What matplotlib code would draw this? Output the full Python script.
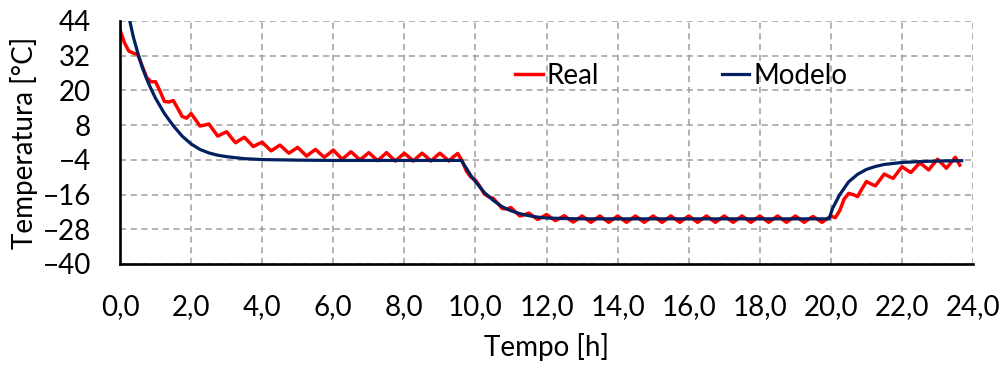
import numpy as np
import matplotlib
matplotlib.use("Agg")
import matplotlib.pyplot as plt

plt.rcParams["font.family"] = ["Lato", "DejaVu Sans"]

# ── Data ─────────────────────────────────────────────────
# Real: sampled every 0.125 h (8 values per hour)
real_step = 0.125
real_temp = [
    40.9, 36.5, 33.6, 32.9, 32.4, 28.5, 24.5, 23.0,          # 0 h
    23.0, 19.8, 16.2, 16.0, 16.5, 13.8, 11.0, 10.4,          # 1 h
    12.0, 9.9, 7.7, 8.0, 8.4, 6.3, 4.2, 5.0,                 # 2 h
    5.7, 3.8, 1.9, 2.9, 3.8, 2.2, 0.6, 1.4,                  # 3 h
    2.1, 0.6, -0.9, 0.1, 1.1, -0.3, -1.7, -0.7,              # 4 h
    0.3, -1.2, -2.7, -1.5, -0.4, -1.8, -3.1, -1.9,           # 5 h
    -0.6, -2.2, -3.8, -2.5, -1.2, -2.6, -4.0, -2.8,          # 6 h
    -1.5, -2.9, -4.3, -2.9, -1.5, -3.0, -4.4, -3.0,          # 7 h
    -1.7, -3.0, -4.4, -3.0, -1.7, -3.0, -4.4, -3.0,          # 8 h
    -1.7, -3.0, -4.4, -3.0, -1.8, -4.3, -8.0, -10.0,         # 9 h
    -11.0, -13.2, -15.8, -16.8, -17.3, -19.0, -20.8, -21.0,  # 10 h
    -20.5, -22.0, -23.4, -23.0, -22.4, -23.5, -24.6, -23.8,  # 11 h
    -22.9, -24.0, -25.0, -24.2, -23.3, -24.5, -25.5, -24.5,  # 12 h
    -23.4, -24.5, -25.6, -24.5, -23.4, -24.5, -25.6, -24.5,  # 13 h
    -23.4, -24.5, -25.6, -24.5, -23.4, -24.5, -25.6, -24.5,  # 14 h
    -23.4, -24.5, -25.6, -24.5, -23.4, -24.5, -25.6, -24.5,  # 15 h
    -23.4, -24.5, -25.6, -24.5, -23.4, -24.5, -25.6, -24.5,  # 16 h
    -23.4, -24.5, -25.6, -24.5, -23.4, -24.5, -25.6, -24.5,  # 17 h
    -23.4, -24.5, -25.6, -24.5, -23.4, -24.5, -25.6, -24.5,  # 18 h
    -23.4, -24.5, -25.6, -24.5, -23.6, -24.6, -25.6, -24.5,  # 19 h
    -23.4, -24.0, -21.5, -17.5, -15.6, -16.0, -16.7, -14.0,  # 20 h
    -11.5, -12.3, -13.0, -11.0, -8.9, -9.7, -10.4, -8.4,     # 21 h
    -6.4, -7.4, -8.4, -6.7, -5.0, -6.2, -7.5, -5.6,          # 22 h
    -3.8, -5.3, -6.9, -5.0, -3.1, -5.8,                      # 23 h
]
real_time = np.arange(len(real_temp)) * real_step

model_time = [0.0, 0.125, 0.25, 0.375, 0.5, 0.625, 0.75, 0.875, 1.0, 1.25,
              1.5, 1.75, 2.0, 2.25, 2.5, 2.75, 3.0, 3.5, 4.0, 5.0, 6.0,
              9.6, 9.75, 9.875, 10.0, 10.25, 10.5, 10.75, 11.0, 11.25, 11.5,
              11.75, 12.0, 12.5, 13.0, 19.95, 20.05, 20.25, 20.5, 20.75,
              21.0, 21.25, 21.5, 22.0, 22.5, 23.0, 23.68]
model_temp = [63.0, 53.0, 45.5, 38.5, 33.0, 28.0, 24.0, 20.5, 17.3, 12.0,
              7.8, 4.2, 1.5, -0.4, -1.6, -2.4, -2.9, -3.6, -3.9, -4.1, -4.2,
              -4.2, -7.0, -9.5, -11.5, -15.3, -18.0, -20.2, -21.6, -22.6, -23.3,
              -23.8, -24.1, -24.3, -24.4, -24.4, -20.7, -16.0, -11.6, -9.0,
              -7.3, -6.3, -5.6, -4.9, -4.6, -4.4, -4.3]

x_ticks = np.arange(0, 25, 2)
y_ticks = [-40, -28, -16, -4, 8, 20, 32, 44]

FS = 20

# ── Figure ───────────────────────────────────────────────
fig = plt.figure(figsize=(10.04, 3.67), dpi=100)
ax = fig.add_axes([0.1195, 0.2807, 0.8497, 0.6621])

ax.plot(real_time, real_temp, color="#FF0000", lw=2.5, label="Real",
        solid_joinstyle="round", zorder=3)
ax.plot(model_time, model_temp, color="#002060", lw=2.3, label="Modelo",
        solid_joinstyle="round", zorder=4)

ax.set_xlim(0, 24)
ax.set_ylim(-40, 44)
ax.set_xticks(x_ticks)
ax.set_xticklabels([f"{v:.1f}".replace(".", ",") for v in x_ticks])
ax.set_yticks(y_ticks)
ax.tick_params(axis="both", length=0, labelsize=FS)
ax.tick_params(axis="x", pad=22)
ax.tick_params(axis="y", pad=21)

ax.grid(True, color="#9E9E9E", lw=1.1, linestyle=(0, (4, 3)), zorder=1)
for s in ("top", "right"):
    ax.spines[s].set_visible(False)
for s in ("left", "bottom"):
    ax.spines[s].set_linewidth(1.9)
    ax.spines[s].set_color("black")
    ax.spines[s].set_zorder(5)

ax.set_xlabel("Tempo [h]", fontsize=FS, labelpad=9)
ax.set_ylabel("Temperatura [°C]", fontsize=FS, labelpad=3)

ax.legend(loc="center", bbox_to_anchor=(0.658, 0.774), ncol=2, frameon=False,
          fontsize=FS, handlelength=1.0, handletextpad=0.15,
          columnspacing=4.4, borderpad=0)

fig.savefig("out.png", dpi=100)
